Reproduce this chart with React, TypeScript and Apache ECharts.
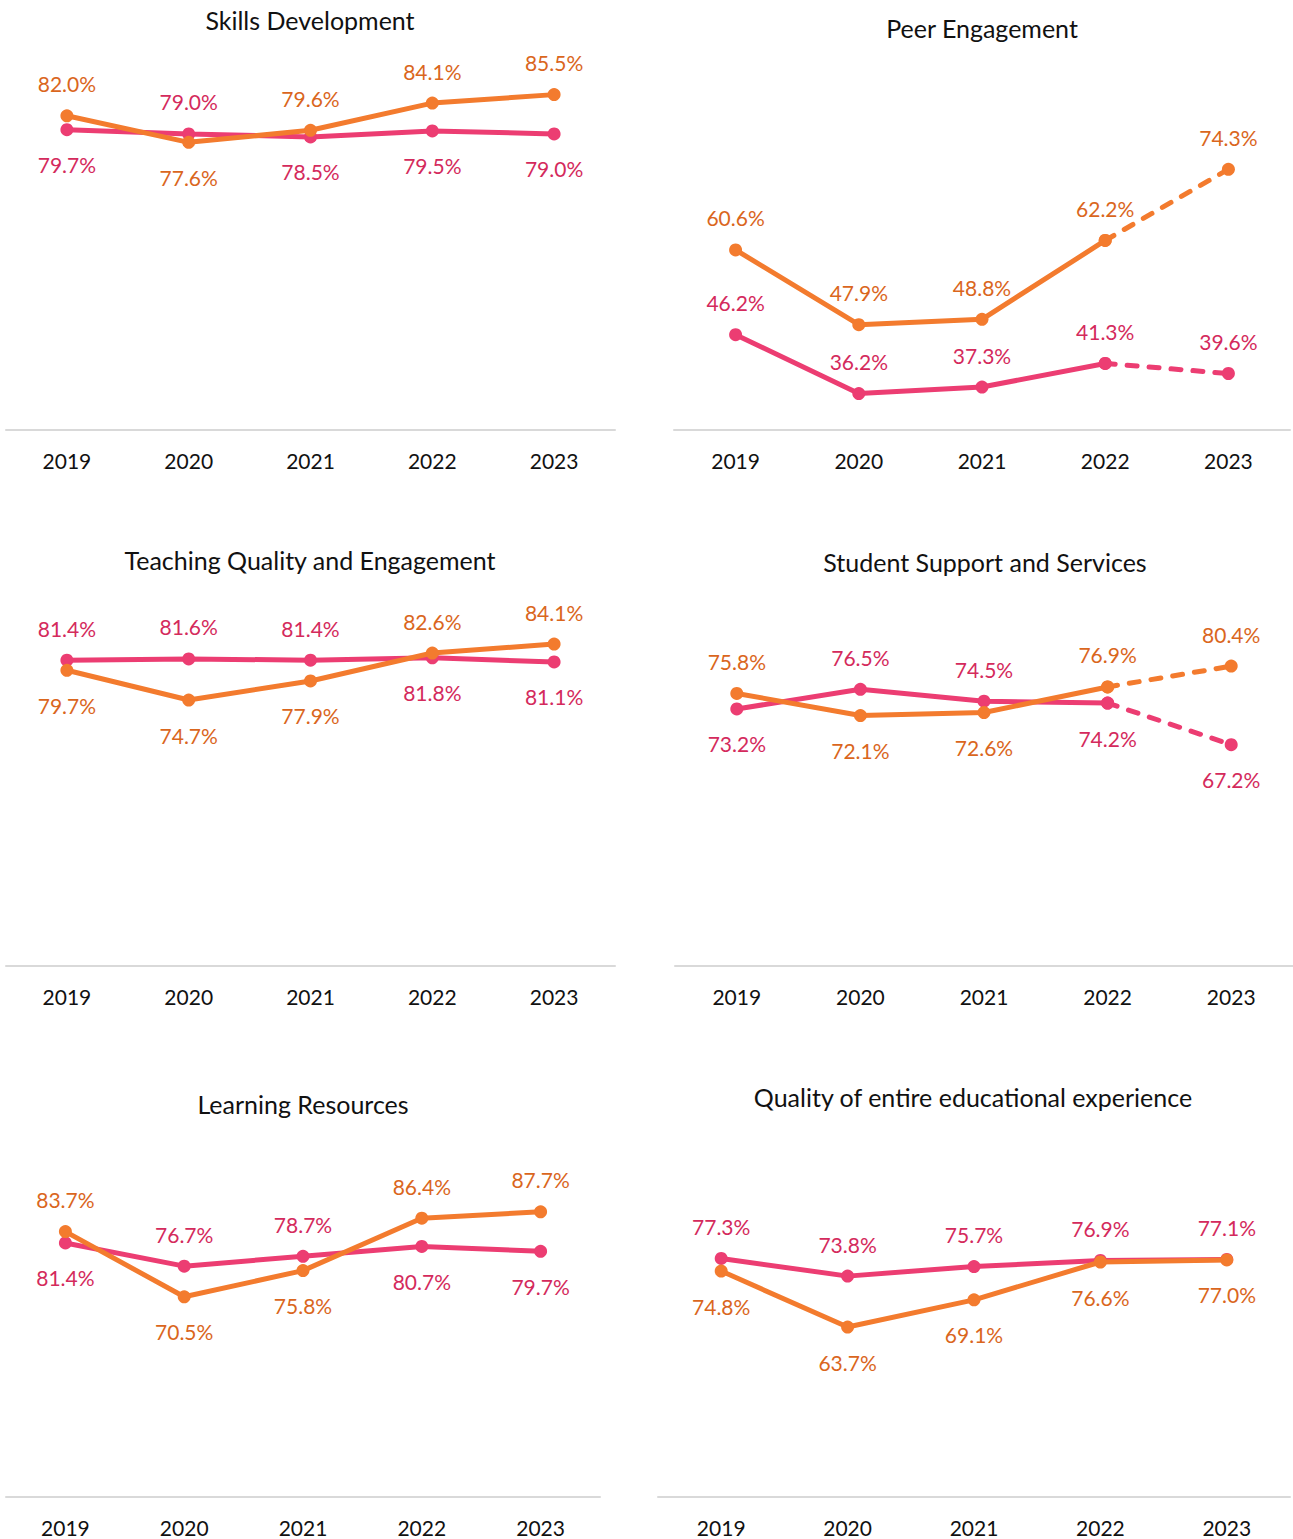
import React, { useEffect, useRef } from "react";
import * as echarts from "echarts";

const years = ["2019", "2020", "2021", "2022", "2023"];

const titles = [
  "Skills Development",
  "Peer Engagement",
  "Teaching Quality and Engagement",
  "Student Support and Services",
  "Learning Resources",
  "Quality of entire educational experience",
];

const skillsOrange = [82.0, 77.6, 79.6, 84.1, 85.5];
const skillsPink = [79.7, 79.0, 78.5, 79.5, 79.0];
const peerOrange = [60.6, 47.9, 48.8, 62.2, 74.3];
const peerPink = [46.2, 36.2, 37.3, 41.3, 39.6];
const teachingOrange = [79.7, 74.7, 77.9, 82.6, 84.1];
const teachingPink = [81.4, 81.6, 81.4, 81.8, 81.1];
const supportOrange = [75.8, 72.1, 72.6, 76.9, 80.4];
const supportPink = [73.2, 76.5, 74.5, 74.2, 67.2];
const learningOrange = [83.7, 70.5, 75.8, 86.4, 87.7];
const learningPink = [81.4, 76.7, 78.7, 80.7, 79.7];
const qualityOrange = [74.8, 63.7, 69.1, 76.6, 77.0];
const qualityPink = [77.3, 73.8, 75.7, 76.9, 77.1];

const orangeSets = [skillsOrange, peerOrange, teachingOrange, supportOrange, learningOrange, qualityOrange];
const pinkSets = [skillsPink, peerPink, teachingPink, supportPink, learningPink, qualityPink];
const dashedLast = [false, true, false, true, false, false];

const ORANGE = "#F37B2E";
const ORANGE_TXT = "#DA661D";
const PINK = "#EC3D72";
const PINK_TXT = "#D42A5C";
const FONT = "Lato, 'Open Sans', sans-serif";

// layout per panel: grid rect + title center
const layout = [
  { left: 6, width: 609, top: 7, height: 423, tx: 310, ty: 20 },
  { left: 674, width: 616, top: 18, height: 412, tx: 982, ty: 28 },
  { left: 6, width: 609, top: 549.5, height: 416.5, tx: 310, ty: 560 },
  { left: 675, width: 624, top: 549.5, height: 416.5, tx: 985, ty: 562 },
  { left: 6, width: 594, top: 1151, height: 346, tx: 303, ty: 1104 },
  { left: 658, width: 632, top: 1144, height: 353, tx: 973, ty: 1097 },
];

function buildOption() {
  const grid: any[] = [];
  const xAxis: any[] = [];
  const yAxis: any[] = [];
  const title: any[] = [];
  const series: any[] = [];

  layout.forEach((l, i) => {
    grid.push({ left: l.left, top: l.top, width: l.width, height: l.height, containLabel: false });
    title.push({
      text: titles[i],
      left: l.tx - 5,
      top: l.ty - 17.5,
      textAlign: "center",
      textStyle: { fontFamily: FONT, fontSize: 25, fontWeight: "normal", color: "#111" },
    });
    xAxis.push({
      type: "category",
      gridIndex: i,
      data: years,
      boundaryGap: true,
      axisLine: { lineStyle: { color: "#D9D9D9", width: 2 } },
      axisTick: { show: false },
      axisLabel: { color: "#111", fontFamily: FONT, fontSize: 21, margin: 20 },
    });
    yAxis.push({
      type: "value",
      gridIndex: i,
      min: 30,
      max: 100,
      show: false,
      splitLine: { show: false },
    });

    const o = orangeSets[i];
    const p = pinkSets[i];
    // when the two lines stay far apart everywhere, every label sits above its point
    const farApart = o.every((v, k) => Math.abs(v - p[k]) > 11);
    const lines = [
      { vals: p, other: o, color: PINK, txt: PINK_TXT, name: "pink" },
      { vals: o, other: p, color: ORANGE, txt: ORANGE_TXT, name: "orange" },
    ];
    lines.forEach((ln) => {
      const pos = ln.vals.map((v, k) => {
        if (farApart) return "top";
        return v >= ln.other[k] ? "top" : "bottom";
      });
      const mkItem = (k: number) => ({
        value: ln.vals[k],
        label: {
          position: pos[k],
          distance: pos[k] === "top" ? 15 : 18,
        },
      });
      const labelBase = {
        show: true,
        color: ln.txt,
        fontFamily: FONT,
        fontSize: 21,
        lineHeight: 21,
        formatter: (pr: any) => Number(pr.value).toFixed(1) + "%",
      };
      const n = years.length;
      const solidEnd = dashedLast[i] ? n - 1 : n;
      series.push({
        type: "line",
        xAxisIndex: i,
        yAxisIndex: i,
        name: ln.name,
        data: years.map((_, k) => (k < solidEnd ? mkItem(k) : "-")),
        symbol: "circle",
        symbolSize: 13,
        lineStyle: { color: ln.color, width: 5 },
        itemStyle: { color: ln.color },
        label: labelBase,
        z: ln.name === "orange" ? 3 : 2,
      });
      if (dashedLast[i]) {
        series.push({
          type: "line",
          xAxisIndex: i,
          yAxisIndex: i,
          name: ln.name + "-dash",
          data: years.map((_, k) =>
            k === n - 1 ? mkItem(k) : k === n - 2 ? { value: ln.vals[k], label: { show: false } } : "-"
          ),
          symbol: "circle",
          symbolSize: 13,
          lineStyle: { color: ln.color, width: 5, type: [10, 12], cap: "round" },
          itemStyle: { color: ln.color },
          label: labelBase,
          z: ln.name === "orange" ? 3 : 2,
        });
      }
    });
  });

  return {
    animation: false,
    backgroundColor: "#ffffff",
    title,
    grid,
    xAxis,
    yAxis,
    series,
  };
}

export default function App() {
  const ref = useRef<HTMLDivElement>(null);
  useEffect(() => {
    if (!ref.current) return;
    const chart = echarts.init(ref.current, undefined, { renderer: "svg" });
    chart.setOption(buildOption() as any);
    return () => chart.dispose();
  }, []);
  return (
    <div
      ref={ref}
      style={{ position: "absolute", left: 0, top: 0, width: 1293, height: 1539 }}
    />
  );
}
